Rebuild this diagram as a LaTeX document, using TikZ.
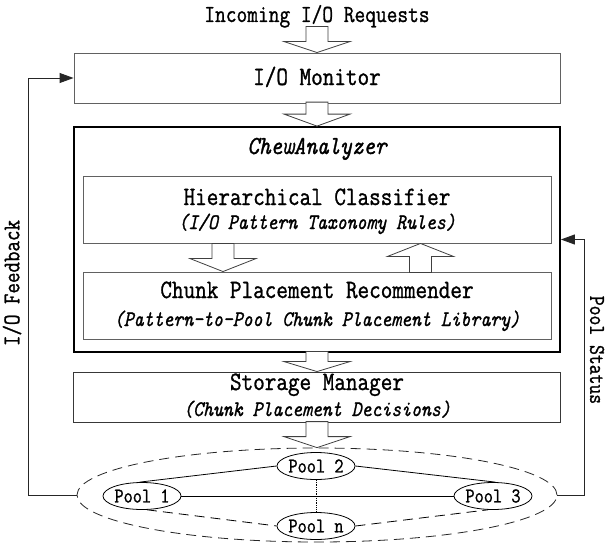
\documentclass[tikz,border=0pt]{standalone}
\usepackage{fontspec}
\setmonofont{Latin Modern Mono}[FakeStretch=0.85,FakeBold=1.1]
\usetikzlibrary{arrows.meta,shapes.geometric}
\tikzset{
  box/.style={draw=black!62,line width=0.9pt,rectangle,inner sep=0pt},
  outerbox/.style={draw=black,line width=1.8pt,rectangle,inner sep=0pt},
  smbox/.style={draw=black!78,line width=0.9pt,rectangle,inner sep=0pt},
  ttl/.style={font=\ttfamily\fontsize{26.5}{30}\selectfont,anchor=base,inner sep=0pt},
  subt/.style={font=\ttfamily\fontsize{22.2}{26}\selectfont\itshape,anchor=base,inner sep=0pt},
  pool/.style={draw=black,line width=0.8pt,ellipse,minimum width=78pt,minimum height=27pt,inner sep=0pt,fill=white,font=\ttfamily\fontsize{21}{24}\selectfont},
  harrow/.style={draw=black!75,fill=white,line width=0.8pt,line join=miter},
  fbline/.style={draw=black!85,line width=0.9pt},
  fbtip/.style={-{Triangle[length=14pt,width=10pt]}},
  pics/hdn/.style 2 args={code={
    \draw[harrow] (0,0) -- (-33,-#2) -- (-11,-#2) -- (-11,-#1) -- (11,-#1) -- (11,-#2) -- (33,-#2) -- cycle;}},
  pics/hup/.style 2 args={code={
    \draw[harrow] (0,0) -- (-33,#2) -- (-11,#2) -- (-11,#1) -- (11,#1) -- (11,#2) -- (33,#2) -- cycle;}},
}
\begin{document}
\begin{tikzpicture}[x=1pt,y=-1pt]
\useasboundingbox (0,0) rectangle (607,543);
\fill[white] (0,0) rectangle (607,543);

% text at top
\node[ttl,font=\ttfamily\fontsize{24.5}{28}\selectfont] (inc) at (317,22) {Incoming I/O Requests};

% main boxes
\node[box,minimum width=486pt,minimum height=50pt] (mon) at (317,78) {};
\node[ttl] (monl) at (317,85) {I/O Monitor};

\node[outerbox,minimum width=486pt,minimum height=225pt] (chew) at (317,239.5) {};
\node[ttl,font=\ttfamily\fontsize{26}{30}\selectfont\itshape] (chewl) at (317,154) {ChewAnalyzer};

\node[box,minimum width=468pt,minimum height=67pt] (hc) at (317,209.5) {};
\node[ttl] (hct) at (317,205) {Hierarchical Classifier};
\node[subt] (hcs) at (317,229) {(I/O Pattern Taxonomy Rules)};

\node[box,minimum width=468pt,minimum height=67pt] (cpr) at (317,305.5) {};
\node[ttl] (cprt) at (317,298) {Chunk Placement Recommender};
\node[subt] (cprs) at (317,326) {(Pattern-to-Pool Chunk Placement Library)};

\node[smbox,minimum width=487pt,minimum height=50pt] (sm) at (317,397) {};
\node[ttl] (smt) at (317,390) {Storage Manager};
\node[subt] (sms) at (317,416) {(Chunk Placement Decisions)};

% pool group
\node[draw=black!85,line width=0.8pt,dash pattern=on 10pt off 6pt,ellipse,minimum width=480pt,minimum height=94pt,inner sep=0pt] (big) at (317,495) {};
\node[pool] (p2) at (316,466) {Pool 2};
\node[pool] (p1) at (142,496) {Pool 1};
\node[pool] (p3) at (493,496) {Pool 3};
\node[pool] (pn) at (316,526) {Pool n};
\draw[line width=0.8pt] (p2.west) -- (p1.100);
\draw[line width=0.8pt] (p2.east) -- (p3.80);
\draw[line width=0.8pt] (p1.east) -- (p3.west);
\draw[line width=0.8pt,densely dotted] (p2.south) -- (pn.north);
\draw[line width=0.8pt,dash pattern=on 10pt off 6pt] (p1.-70) -- (pn.west);
\draw[line width=0.8pt,dash pattern=on 10pt off 6pt] (pn.east) -- (p3.-110);

% hollow arrows
\pic at (mon.north) {hdn={26}{11}};
\pic at (chew.north) {hdn={24}{12}};
\pic at (sm.north) {hdn={20}{10}};
\pic at (big.north) {hdn={26}{11}};
\pic at ([xshift=-94pt]cpr.north) {hdn={28}{13}};
\pic at ([xshift=103.5pt]hc.south) {hup={29}{13}};

% feedback loops
\coordinate (fl) at (28,495);
\coordinate (fr) at (584,495);
\draw[fbline,fbtip] (big.west) -- (fl) |- (mon.west);
\draw[fbline,fbtip] (big.east) -- (fr) |- (chew.east);
\node[rotate=90,font=\ttfamily\fontsize{24}{28}\selectfont,inner sep=0pt] (fbl) at (12,283) {I/O Feedback};
\node[rotate=-90,font=\ttfamily\fontsize{22.5}{26}\selectfont,inner sep=0pt] (psl) at (597,350) {Pool Status};
\end{tikzpicture}
\end{document}
